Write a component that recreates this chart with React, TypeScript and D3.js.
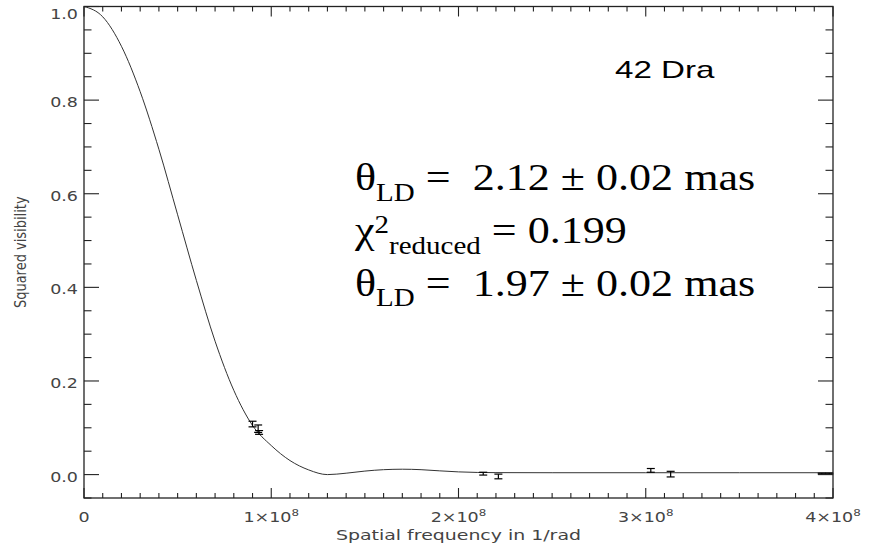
import React from "react";
import * as d3 from "d3";

// Model curve (spatial frequency in 1/rad, squared visibility)
const curveFreq = [0, 0.1e8, 0.2e8, 0.3e8, 0.4e8, 0.5e8, 0.6e8, 0.7e8, 0.8e8, 0.9e8, 1.0e8, 1.1e8, 1.2e8, 1.3e8, 1.4e8, 1.5e8, 1.6e8, 1.7e8, 1.8e8, 1.9e8, 2.0e8, 2.2e8, 2.5e8, 3.0e8, 3.5e8, 4.0e8];
const curveVis = [1.0, 0.978, 0.915, 0.818, 0.695, 0.555, 0.415, 0.285, 0.18, 0.105, 0.062, 0.03, 0.01, 0.0, 0.003, 0.0075, 0.0105, 0.0115, 0.0105, 0.008, 0.0058, 0.0042, 0.004, 0.004, 0.004, 0.004];

// Measured points with error bars
const pointFreq = [0.9e8, 0.93e8, 0.935e8, 2.132e8, 2.213e8, 3.027e8, 3.133e8, 3.94e8, 3.98e8];
const pointVis = [0.108, 0.098, 0.09, 0.002, -0.004, 0.009, 0.001, 0.002, 0.002];
const pointErr = [0.006, 0.008, 0.004, 0.003, 0.005, 0.004, 0.006, 0.001, 0.001];

const xMajorTicks = [0, 1e8, 2e8, 3e8, 4e8];
const xTickLabels = ["0", "1", "2", "3", "4"];
const yMajorTicks = [0, 0.2, 0.4, 0.6, 0.8, 1.0];
const yTickLabels = ["0.0", "0.2", "0.4", "0.6", "0.8", "1.0"];

const W = 875, H = 555;
const L = 84, R = 833, T = 6.5, B = 498;

export default function App() {
  const x = d3.scaleLinear().domain([0, 4e8]).range([L, R]);
  const y = d3.scaleLinear().domain([-0.05, 1.0]).range([B, T]);

  const xMinor = d3.range(0, 4e8 + 1, 1e7);
  const yMinor = d3.range(-0.05, 1.0001, 0.05);

  const line = d3
    .line<number>()
    .x((_, i) => x(curveFreq[i]))
    .y((v) => y(v))
    .curve(d3.curveMonotoneX);

  const axisColor = "#222";
  const labelColor = "#444";
  const tickFont = "'DejaVu Sans', sans-serif";
  const xMajLen = 10, xMinLen = 5, yMajLen = 15, yMinLen = 7.5;
  const capW = 4;
  const sx = 1.25;

  return (
    <svg
      width={W}
      height={H}
      style={{ position: "absolute", left: 0, top: 0, background: "#fff" }}
    >
      <rect x={0} y={0} width={W} height={H} fill="#fff" />
      {/* curve */}
      <path d={line(curveVis) || ""} fill="none" stroke="#333" strokeWidth={1} />
      {/* error bars */}
      <g stroke="#000" strokeWidth={1.2}>
        {pointFreq.map((f, i) => {
          const cx = x(f);
          const y1 = y(pointVis[i] + pointErr[i]);
          const y2 = y(pointVis[i] - pointErr[i]);
          return (
            <g key={i}>
              <line x1={cx} x2={cx} y1={y1} y2={y2} />
              <line x1={cx - capW} x2={cx + capW} y1={y1} y2={y1} />
              <line x1={cx - capW} x2={cx + capW} y1={y2} y2={y2} />
            </g>
          );
        })}
      </g>
      {/* axes box */}
      <rect x={L} y={T} width={R - L} height={B - T} fill="none" stroke={axisColor} strokeWidth={1.3} />
      <g stroke={axisColor} strokeWidth={1.1}>
        {xMinor.map((t, i) => {
          const major = Math.abs(t / 1e8 - Math.round(t / 1e8)) < 1e-6;
          const len = major ? xMajLen : xMinLen;
          return (
            <g key={"xm" + i}>
              <line x1={x(t)} x2={x(t)} y1={B} y2={B - len} />
              <line x1={x(t)} x2={x(t)} y1={T} y2={T + len} />
            </g>
          );
        })}
        {yMinor.map((t, i) => {
          const major = Math.abs(t * 5 - Math.round(t * 5)) < 1e-6;
          const len = major ? yMajLen : yMinLen;
          return (
            <g key={"ym" + i}>
              <line x1={L} x2={L + len} y1={y(t)} y2={y(t)} />
              <line x1={R} x2={R - len} y1={y(t)} y2={y(t)} />
            </g>
          );
        })}
      </g>
      {/* y tick labels */}
      <g fill={labelColor} fontFamily={tickFont} fontSize={14} textAnchor="end">
        {yMajorTicks.map((t, i) => (
          <text
            key={i}
            transform={`translate(${L - 6}, ${Math.max(y(t) + 7, 19)}) scale(${sx},1)`}
          >
            {yTickLabels[i]}
          </text>
        ))}
      </g>
      {/* x tick labels */}
      <g fill={labelColor} fontFamily={tickFont} fontSize={14} textAnchor="middle">
        {xMajorTicks.map((t, i) =>
          i === 0 ? (
            <text key={i} transform={`translate(${x(t)}, 521.7) scale(${sx},1)`}>
              {xTickLabels[i]}
            </text>
          ) : (
            <text key={i} transform={`translate(${x(t)}, 521.7) scale(${sx},1)`}>
              {xTickLabels[i]}×10
              <tspan fontSize={9.5} dy={-6}>8</tspan>
            </text>
          )
        )}
      </g>
      {/* axis titles */}
      <text
        x={(L + R) / 2}
        y={540}
        textAnchor="middle"
        fill={labelColor}
        fontFamily={tickFont}
        fontSize={14}
        textLength={245}
        lengthAdjust="spacingAndGlyphs"
      >
        Spatial frequency in 1/rad
      </text>
      <text
        transform={`translate(26, ${(T + B) / 2}) rotate(-90) scale(1,${sx})`}
        textAnchor="middle"
        fill={labelColor}
        fontFamily={tickFont}
        fontSize={13}
      >
        Squared visibility
      </text>
      {/* annotations */}
      <text
        transform="translate(615, 77.5) scale(1.38,1)"
        fontFamily="'Liberation Sans', Arial, sans-serif"
        fontSize={24}
        fill="#000"
      >
        42 Dra
      </text>
      <g
        fontFamily="'Liberation Serif', 'Times New Roman', serif"
        fill="#000"
        transform="translate(355,0) scale(1.16,1)"
      >
        <text x={0} y={190} fontSize={38} xmlSpace="preserve">
          θ<tspan fontSize={25} dy={11}>LD</tspan>
          <tspan dy={-11}>{" =  2.12 ± 0.02 mas"}</tspan>
        </text>
        <text x={0} y={243} fontSize={38} xmlSpace="preserve">
          χ<tspan fontSize={25} dy={-10}>2</tspan>
          <tspan fontSize={25} dy={21}>reduced</tspan>
          <tspan dy={-11}>{" = 0.199"}</tspan>
        </text>
        <text x={0} y={296} fontSize={38} xmlSpace="preserve">
          θ<tspan fontSize={25} dy={10}>LD</tspan>
          <tspan dy={-10}>{" =  1.97 ± 0.02 mas"}</tspan>
        </text>
      </g>
    </svg>
  );
}
